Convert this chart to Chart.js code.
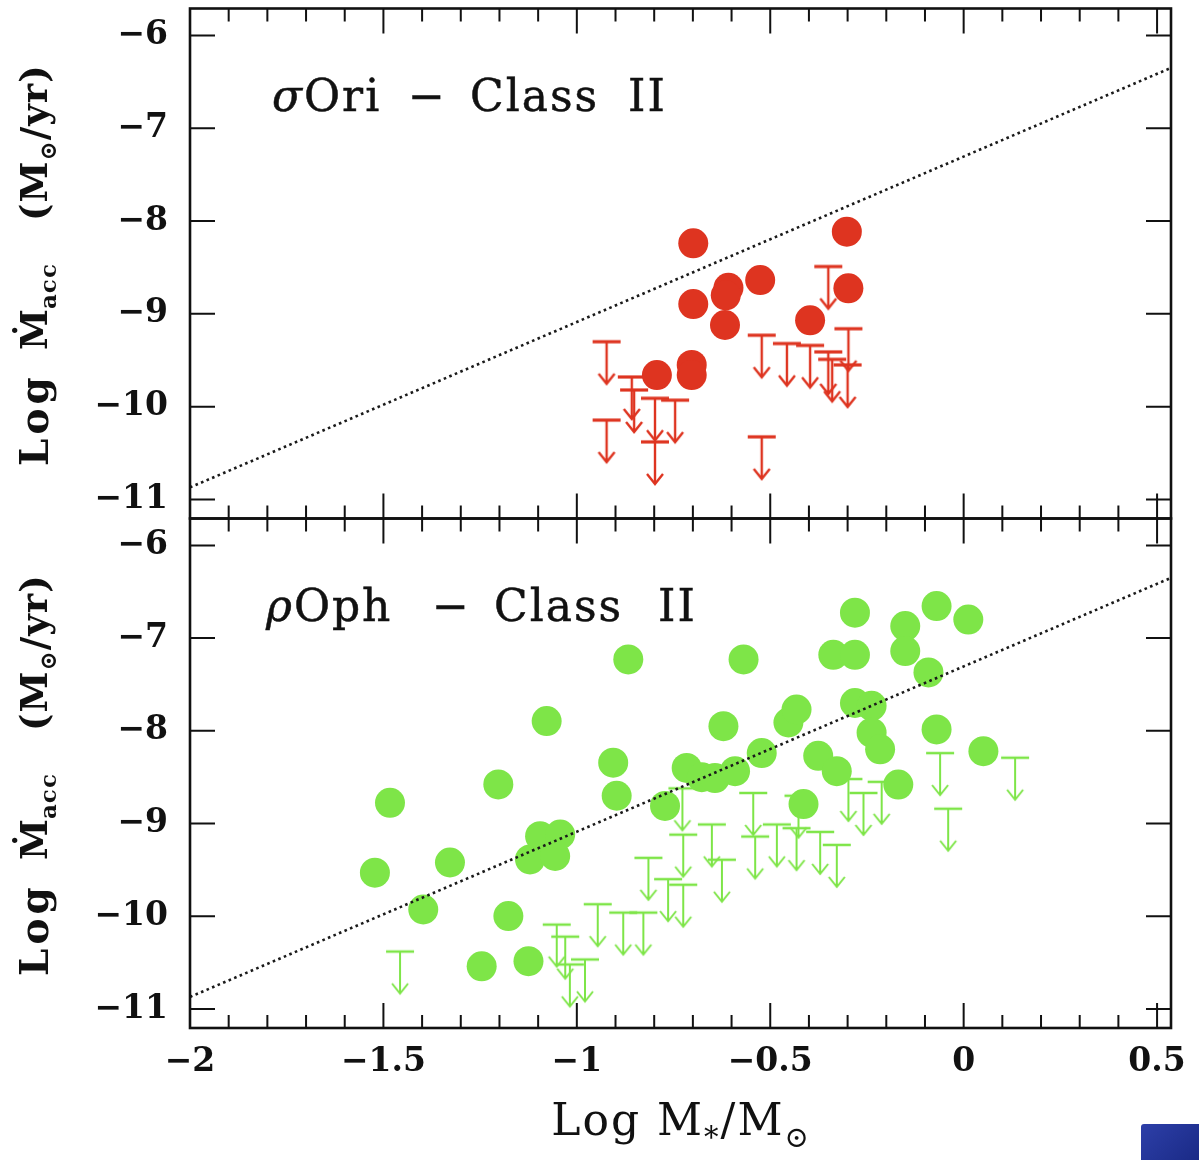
<!DOCTYPE html>
<html><head><meta charset="utf-8">
<script src="https://cdn.jsdelivr.net/npm/chart.js@4.4.1/dist/chart.umd.min.js"></script>
<style>
body{margin:0;background:#fff;width:1199px;height:1160px;overflow:hidden;position:relative;font-family:'DejaVu Serif',serif;color:#111;}
canvas{position:absolute;left:0;}
.lbl{position:absolute;white-space:pre;font-size:44px;line-height:44px;letter-spacing:2px;-webkit-text-stroke:0.5px #111;}
.yt{position:absolute;width:420px;height:44px;transform-origin:0 0;transform:rotate(-90deg);}
.yt span{position:absolute;top:0;white-space:pre;font-weight:bold;font-size:37px;line-height:44px;}
.yt sub{font-size:23px;vertical-align:-9px;letter-spacing:1px;}
.xt{position:absolute;white-space:pre;font-size:44px;line-height:50px;letter-spacing:2px;transform:translate(-50%,-50%);}
.xt sub{font-size:29px;vertical-align:-12px;}
#logo{position:absolute;left:1141px;top:1124px;width:58px;height:36px;background:linear-gradient(135deg,#2d3fa8,#1a2a86);border-radius:3px 0 0 0;}
</style></head><body>
<canvas id="c1" width="1199" height="560" style="top:-20px"></canvas>
<canvas id="c2" width="1199" height="660" style="top:500px"></canvas>

<div class="lbl" style="left:272px;top:74px"><i>σ</i>Ori</div>
<div class="lbl" style="left:408px;top:74px">−</div>
<div class="lbl" style="left:470px;top:74px">Class</div>
<div class="lbl" style="left:628px;top:74px">II</div>

<div class="lbl" style="left:266px;top:584px"><i>ρ</i>Oph</div>
<div class="lbl" style="left:432px;top:584px">−</div>
<div class="lbl" style="left:494px;top:584px">Class</div>
<div class="lbl" style="left:658px;top:584px">II</div>

<div class="yt" style="left:12px;top:466px"><span style="left:0;letter-spacing:4px;font-size:39px">Log</span><span style="left:116px">Ṁ<sub>acc</sub></span><span style="left:245px;letter-spacing:1px">(M<sub>⊙</sub>/yr)</span></div>
<div class="yt" style="left:12px;top:976px"><span style="left:0;letter-spacing:4px;font-size:39px">Log</span><span style="left:116px">Ṁ<sub>acc</sub></span><span style="left:245px;letter-spacing:1px">(M<sub>⊙</sub>/yr)</span></div>
<div class="xt" style="left:681px;top:1128px">Log M<sub>*</sub>/M<sub>⊙</sub></div>
<div id="logo"></div>

<script>
// ---------- axes ----------
const xRange = [-2, 0.536];
const yRange = [-11.205, -5.71];
const xTickValues = [-2, -1.5, -1, -0.5, 0, 0.5];
const xMinorTickValues = [-1.9,-1.8,-1.7,-1.6,-1.4,-1.3,-1.2,-1.1,-0.9,-0.8,-0.7,-0.6,-0.4,-0.3,-0.2,-0.1,0.1,0.2,0.3,0.4];
const yTickValues = [-11, -10, -9, -8, -7, -6];

// ---------- dotted relation ----------
const fitX = [-2, 0.536];
const fitY = [-10.87, -6.35];

// ---------- sigma Ori Class II ----------
const oriDetX = [-0.793,-0.703,-0.703,-0.699,-0.699,-0.608,-0.615,-0.617,-0.526,-0.397,-0.302,-0.298];
const oriDetY = [-9.66,-9.55,-9.66,-8.24,-8.895,-8.72,-8.80,-9.12,-8.636,-9.07,-8.115,-8.725];
const oriLimX = [-0.923,-0.923,-0.858,-0.852,-0.798,-0.798,-0.746,-0.522,-0.522,-0.457,-0.397,-0.350,-0.340,-0.350,-0.298,-0.300];
const oriLimY = [-9.30,-10.145,-9.68,-9.82,-9.91,-10.38,-9.93,-9.23,-10.325,-9.32,-9.34,-9.41,-9.49,-8.49,-9.16,-9.55];

// ---------- rho Oph Class II ----------
const ophDetX = [-1.522,-1.483,-1.397,-1.328,-1.246,-1.203,-1.177,-1.125,-1.121,-1.095,-1.078,-1.056,-1.043,-0.906,-0.897,-0.867,-0.772,-0.716,-0.677,-0.643,-0.621,-0.591,-0.569,-0.522,-0.453,-0.432,-0.414,-0.376,-0.337,-0.328,-0.281,-0.281,-0.281,-0.238,-0.238,-0.216,-0.169,-0.151,-0.151,-0.091,-0.070,-0.070,0.012,0.051];
const ophDetY = [-9.53,-8.776,-9.927,-9.42,-10.54,-8.578,-9.998,-10.484,-9.387,-9.136,-7.895,-9.35,-9.118,-8.344,-8.70,-7.23,-8.81,-8.40,-8.50,-8.51,-7.95,-8.435,-7.23,-8.24,-7.91,-7.77,-8.79,-8.27,-7.18,-8.435,-7.18,-6.726,-7.70,-7.73,-8.02,-8.20,-8.58,-6.87,-7.14,-7.37,-6.655,-7.985,-6.80,-8.22];
const ophLimX = [-1.457,-1.052,-1.030,-1.018,-0.979,-0.946,-0.880,-0.828,-0.815,-0.764,-0.725,-0.725,-0.727,-0.651,-0.625,-0.544,-0.539,-0.483,-0.432,-0.427,-0.371,-0.328,-0.298,-0.259,-0.212,-0.061,-0.040,0.133];
const ophLimY = [-10.38,-10.09,-10.22,-10.52,-10.466,-9.87,-9.96,-9.96,-9.37,-9.60,-9.66,-9.12,-8.62,-9.01,-9.39,-8.67,-9.14,-9.01,-9.05,-8.70,-9.09,-9.23,-8.52,-8.67,-8.55,-8.24,-8.84,-8.29];

const RED = '#de3420';
const GREEN = '#7ee548';

function pts(xs, ys){ const n=Math.min(xs.length, ys.length); const a=[]; for(let i=0;i<n;i++) a.push({x:xs[i], y:ys[i]}); return a; }

function limitIcon(color, barW, lw){
  const w=32, h=96, c=document.createElement('canvas'); c.width=w; c.height=h;
  const g=c.getContext('2d'); const cy=h/2, cx=w/2;
  g.strokeStyle=color; g.lineCap='butt'; g.lineJoin='miter';
  g.lineWidth=barW; g.beginPath(); g.moveTo(cx-14,cy); g.lineTo(cx+14,cy); g.stroke();
  g.lineWidth=lw; g.beginPath(); g.moveTo(cx,cy); g.lineTo(cx,cy+42); g.stroke();
  g.beginPath(); g.moveTo(cx-8,cy+32); g.lineTo(cx,cy+42); g.lineTo(cx+8,cy+32); g.stroke();
  return c;
}

function fmt(v){ const s = (Math.round(v*10)/10).toString(); return v<0 ? '\u2212'+s.slice(1) : s; }

const frameTicks = {
  id:'frameTicks',
  afterDraw(chart){
    const {ctx, chartArea:a, scales:{x,y}} = chart;
    ctx.save(); ctx.strokeStyle='#111';
    ctx.lineWidth=2;
    const xt=(vals,len)=>{ vals.forEach(v=>{ const p=x.getPixelForValue(v);
      ctx.beginPath(); ctx.moveTo(p,a.bottom); ctx.lineTo(p,a.bottom-len); ctx.moveTo(p,a.top); ctx.lineTo(p,a.top+len); ctx.stroke(); }); };
    xt(xTickValues,25); xt(xMinorTickValues,13);
    yTickValues.forEach(v=>{ const p=y.getPixelForValue(v);
      ctx.beginPath(); ctx.moveTo(a.left,p); ctx.lineTo(a.left+25,p); ctx.moveTo(a.right,p); ctx.lineTo(a.right-25,p); ctx.stroke(); });
    ctx.lineWidth=2.6; ctx.strokeRect(a.left,a.top,a.right-a.left,a.bottom-a.top);
    ctx.restore();
  }
};

function noPad(s){ s.paddingTop=0; s.paddingBottom=0; s.paddingLeft=0; s.paddingRight=0; }

function makeChart(id, detX, detY, limX, limY, color, bottom){
  const tickFont = {family:'DejaVu Serif', size:33, weight:'bold'};
  return new Chart(document.getElementById(id), {
    type:'scatter',
    data:{datasets:[
      {data:pts(fitX,fitY), showLine:true, borderColor:'#1a1a1a', borderWidth:2.6, borderDash:[2.6,3.4], pointRadius:0, fill:false},
      {data:pts(detX,detY), pointRadius:15, pointHoverRadius:15, backgroundColor:color, borderWidth:0},
      {data:pts(limX,limY), pointStyle:limitIcon(color, bottom?2.5:3.2, bottom?2:2.4), pointRadius:5, pointHoverRadius:5}
    ]},
    options:{
      responsive:false, animation:false, devicePixelRatio:1,
      layout:{padding: bottom ? {left:0,right:28,top:18.5,bottom:0} : {left:0,right:28,top:28.5,bottom:21.5}},
      plugins:{legend:{display:false}, tooltip:{enabled:false}},
      scales:{
        x:{type:'linear', min:xRange[0], max:xRange[1], display:bottom,
           afterBuildTicks:s=>{ s.ticks = xTickValues.map(v=>({value:v})); },
           afterFit:s=>{ s.height = bottom ? 132 : 0; noPad(s); },
           grid:{display:false, drawTicks:false}, border:{display:false},
           ticks:{font:tickFont, color:'#111', padding:15, maxRotation:0, autoSkip:false, callback:v=>fmt(v)}},
        y:{type:'linear', min:yRange[0], max:yRange[1],
           afterBuildTicks:s=>{ s.ticks = yTickValues.map(v=>({value:v})); },
           afterFit:s=>{ s.width = 190; noPad(s); },
           grid:{display:false, drawTicks:false}, border:{display:false},
           ticks:{font:tickFont, color:'#111', padding:22, autoSkip:false, callback:v=>fmt(v)}}
      }
    },
    plugins:[frameTicks]
  });
}

makeChart('c1', oriDetX, oriDetY, oriLimX, oriLimY, RED, false);
makeChart('c2', ophDetX, ophDetY, ophLimX, ophLimY, GREEN, true);
</script>
</body></html>
